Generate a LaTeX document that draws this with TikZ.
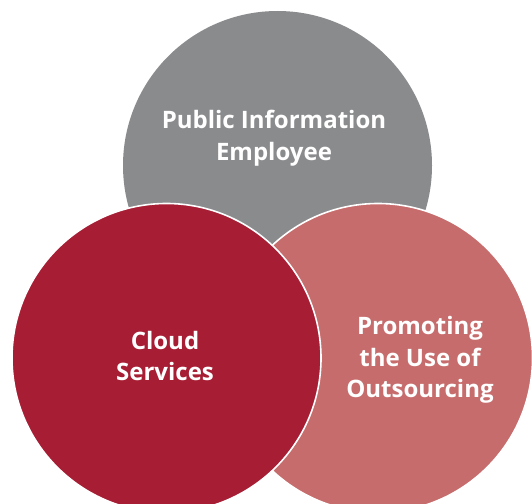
\documentclass[tikz,border=0pt]{standalone}
\usepackage{fontspec}
\setmainfont{Open Sans}
\definecolor{cgray}{RGB}{138,139,141}
\definecolor{cred}{RGB}{166,29,52}
\definecolor{cpink}{RGB}{199,108,108}
\begin{document}
\begin{tikzpicture}[x=1pt,y=-1pt,
  venn/.style={circle, minimum size=309pt, inner sep=0pt, draw=white, line width=1.6pt},
  lbl/.style={text=white, align=center, font=\fontsize{24}{31.5}\selectfont\bfseries, inner sep=0pt}]
\useasboundingbox (0,0) rectangle (532,503);
\clip (0,0) rectangle (532,503);
\node[venn, fill=cgray, draw=none] (pub) at (277.5,165.5) {};
\node[venn, fill=cpink] (out) at (378,358) {};
\node[venn, fill=cred] (cloud) at (166.5,358) {};
\node[lbl] (tpub) at (274,138) {Public Information\\Employee};
\node[lbl] (tcloud) at (165,356) {Cloud\\Services};
\node[lbl] (tout) at (420,360) {Promoting\\the Use of\\Outsourcing};
\end{tikzpicture}
\end{document}
